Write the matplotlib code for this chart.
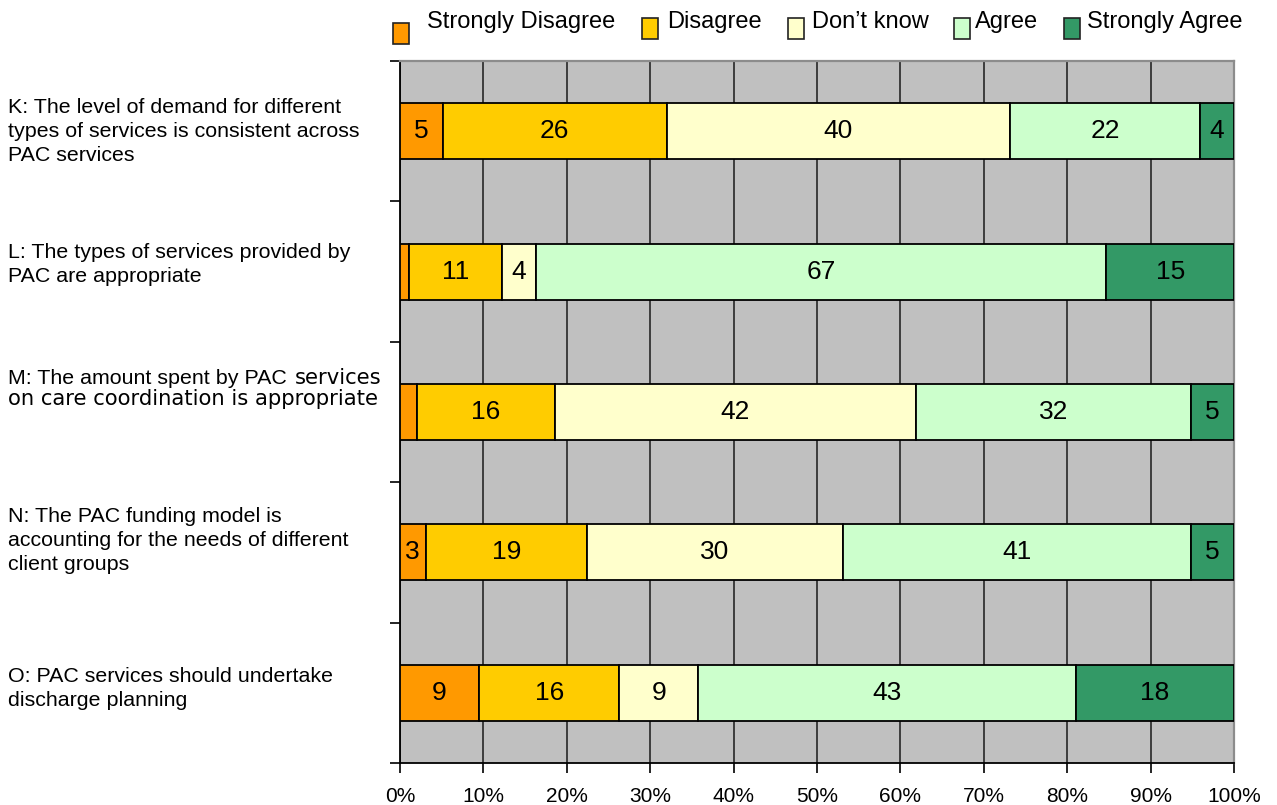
import numpy as np
import matplotlib
matplotlib.use('Agg')
import matplotlib.pyplot as plt
from matplotlib.patches import Rectangle
from matplotlib import transforms

plt.rcParams['font.family'] = ['Liberation Sans', 'DejaVu Sans']

# survey statements (top to bottom)
statements = [
    "K: The level of demand for different\ntypes of services is consistent across\nPAC services",
    "L: The types of services provided by\nPAC are appropriate",
    "M: The amount spent by PAC services\non care coordination is appropriate",
    "N: The PAC funding model is\naccounting for the needs of different\nclient groups",
    "O: PAC services should undertake\ndischarge planning",
]
responses = ["Strongly Disagree", "Disagree", "Don\u2019t know", "Agree", "Strongly Agree"]

# response counts per statement
strongly_disagree = [5, 1, 2, 3, 9]
disagree = [26, 11, 16, 19, 16]
dont_know = [40, 4, 42, 30, 9]
agree = [22, 67, 32, 41, 43]
strongly_agree = [4, 15, 5, 5, 18]

pct_ticks = [0, 10, 20, 30, 40, 50, 60, 70, 80, 90, 100]

colors = ['#FF9900', '#FFCC00', '#FFFFCC', '#CCFFCC', '#339966']

W, H = 1277, 805
fx = lambda px: px / W
fy = lambda py: 1 - py / H

fig = plt.figure(figsize=(W / 100, H / 100), dpi=100)
ax = fig.add_axes([fx(400), 42 / H, 834 / W, 702 / H])

counts = np.array([strongly_disagree, disagree, dont_know, agree, strongly_agree]).T
share = counts / counts.sum(axis=1, keepdims=True) * 100
lefts = np.hstack([np.zeros((len(statements), 1)), np.cumsum(share, axis=1)[:, :-1]])
ypos = np.arange(len(statements))

for j in range(len(responses)):
    ax.barh(ypos, share[:, j], left=lefts[:, j], height=0.4, color=colors[j],
            edgecolor='black', linewidth=1.3, zorder=3)
    for i in range(len(statements)):
        if counts[i, j] >= 3:
            ax.text(lefts[i, j] + share[i, j] / 2, ypos[i], str(counts[i, j]),
                    ha='center', va='center', fontsize=19, zorder=4)

ax.set_xlim(0, 100)
ax.set_ylim(len(statements) - 0.5, -0.5)
ax.set_facecolor('#C0C0C0')
ax.set_xticks(pct_ticks)
ax.set_xticklabels([f"{t}%" for t in pct_ticks], fontsize=15)
ax.set_yticks(np.arange(-0.5, len(statements), 1))
ax.set_yticklabels([])
ax.xaxis.grid(True, color='#333333', linewidth=1.3)
ax.set_axisbelow(True)
ax.tick_params(axis='both', direction='out', length=7, width=1.2, color='black')
ax.tick_params(axis='x', pad=10)
for s in ['left', 'bottom']:
    ax.spines[s].set_color('black')
    ax.spines[s].set_linewidth(1.3)
for s in ['top', 'right']:
    ax.spines[s].set_color('#8c8c8c')
    ax.spines[s].set_linewidth(1.6)

# statement labels on the left
trans = transforms.blended_transform_factory(fig.transFigure, ax.transData)
shift_px = [0, -7, 0, -12, -4]
for i, txt in enumerate(statements):
    if txt.startswith("M:"):
        continue
    t = transforms.offset_copy(trans, fig=fig, x=0, y=-shift_px[i], units='dots')
    fig.text(fx(8), ypos[i], txt, transform=t, ha='left', va='center',
             fontsize=15.4, linespacing=1.34)

# M is set partly in a wider face
m = next(i for i, s in enumerate(statements) if s.startswith("M:"))
first, second = statements[m].split("\n")
head, tail = first.rsplit(" ", 1)
t1 = fig.text(fx(8), ypos[m], head, ha='left', va='baseline', fontsize=15.4,
              transform=transforms.offset_copy(trans, fig=fig, x=0, y=28, units='dots'))
ax.annotate(tail, xy=(1, 0), xycoords=t1, xytext=(6, 0), textcoords='offset points',
            ha='left', va='bottom', fontsize=15.2, family='DejaVu Sans',
            annotation_clip=False)
fig.text(fx(8), ypos[m], second, ha='left', va='baseline', fontsize=15.2,
         family='DejaVu Sans',
         transform=transforms.offset_copy(trans, fig=fig, x=0, y=7, units='dots'))

# legend row
box_x = [393, 642, 788, 954, 1064]
box_top = [23, 18, 18, 18, 18]
text_x = [427, 667, 812, 975, 1087]
for j, name in enumerate(responses):
    fig.patches.append(Rectangle((fx(box_x[j]), fy(box_top[j] + 21)), 16 / W, 21 / H,
                                 transform=fig.transFigure, facecolor=colors[j],
                                 edgecolor='#222222', linewidth=1.2))
    fig.text(fx(text_x[j]), fy(28), name, ha='left', va='baseline', fontsize=17)

fig.savefig('out.png', dpi=100)
